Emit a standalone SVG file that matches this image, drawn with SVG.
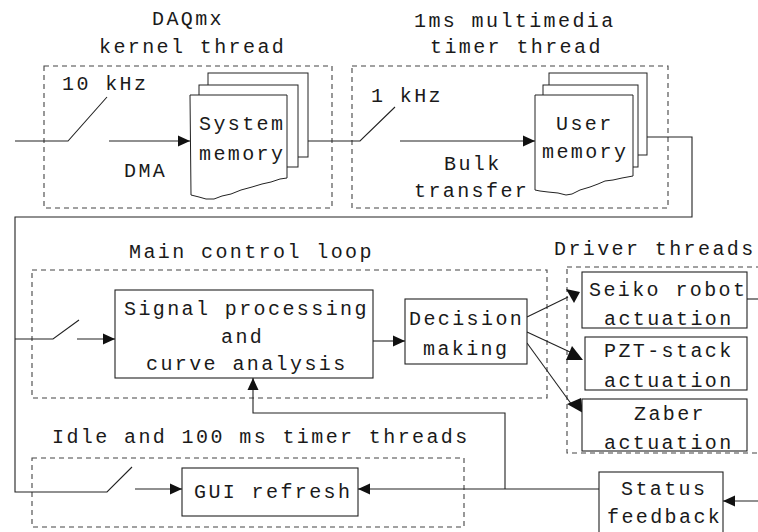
<svg xmlns="http://www.w3.org/2000/svg" width="758" height="532" viewBox="0 0 758 532">
  <style>
    text { font-family: "Liberation Mono", "DejaVu Sans Mono", monospace; font-size: 20px; letter-spacing: 2.4px; fill: #1a1a1a; }
    .box { fill: #fff; stroke: #222; stroke-width: 1.1; }
    .page { fill: #fff; stroke: #222; stroke-width: 1; }
    .thread { fill: none; stroke: #444; stroke-width: 1.1; stroke-dasharray: 5 4; }
    .wire { fill: none; stroke: #222; stroke-width: 1.1; }
    .head { fill: #111; stroke: none; }
  </style>
  <defs>
    <marker id="ah" viewBox="0 0 12 12" refX="12" refY="6" markerWidth="12" markerHeight="12" markerUnits="userSpaceOnUse" orient="auto">
      <path d="M0,0.5 L12,6 L0,11.5 z" fill="#111"/>
    </marker>
  </defs>
  <rect width="758" height="532" fill="#fff"/>

  <!-- thread containers -->
  <g id="daqmx-thread">
    <rect class="thread" x="44" y="66" width="288" height="142"/>
    <text x="152" y="25">DAQmx</text>
    <text x="99" y="53">kernel thread</text>
    <text x="62" y="90">10 kHz</text>
    <text x="124" y="177">DMA</text>
  </g>
  <g id="timer-thread">
    <rect class="thread" x="352" y="66" width="316" height="142"/>
    <text x="414" y="27">1ms multimedia</text>
    <text x="430" y="53">timer thread</text>
    <text x="371" y="102">1 kHz</text>
    <text x="444" y="170">Bulk</text>
    <text x="414" y="197">transfer</text>
  </g>
  <g id="main-loop">
    <rect class="thread" x="32" y="270" width="515" height="128"/>
    <text x="129" y="258">Main control loop</text>
  </g>
  <g id="driver-threads">
    <rect class="thread" x="567" y="267" width="200" height="186"/>
    <text x="554" y="255">Driver threads</text>
  </g>
  <g id="idle-threads">
    <rect class="thread" x="32" y="458" width="432" height="69"/>
    <text x="52" y="443">Idle and 100 ms timer threads</text>
  </g>

  <!-- connectors -->
  <g id="connectors">
    <polyline class="wire" points="15,141 68,141 107,97"/>
    <line class="wire" x1="109" y1="141" x2="190" y2="141" marker-end="url(#ah)"/>
    <polyline class="wire" points="308,141 360,141 395,107"/>
    <line class="wire" x1="400" y1="141" x2="535" y2="141" marker-end="url(#ah)"/>
    <polyline class="wire" points="647,137 692,137 692,217 15,217 15,492 107,492 132,467"/>
    <polyline class="wire" points="15,339 53,339 79,320"/>
    <line class="wire" x1="77" y1="339" x2="115" y2="339" marker-end="url(#ah)"/>
    <line class="wire" x1="373" y1="341" x2="405" y2="341" marker-end="url(#ah)"/>
    <line class="wire" x1="527" y1="317" x2="568" y2="297"/>
    <polygon class="head" points="566,289 580,292 574,303"/>
    <line class="wire" x1="527" y1="332" x2="570" y2="352"/>
    <polygon class="head" points="572,346 566,360 583,360"/>
    <line class="wire" x1="527" y1="343" x2="572" y2="405"/>
    <polygon class="head" points="567,404 581,398 583,413"/>
    <line class="wire" x1="747" y1="299" x2="758" y2="299"/>
    <line class="wire" x1="599" y1="489" x2="358" y2="489" marker-end="url(#ah)"/>
    <polyline class="wire" points="505,489 505,413 253,413 253,378" marker-end="url(#ah)"/>
    <line class="wire" x1="135" y1="489" x2="182" y2="489" marker-end="url(#ah)"/>
    <line class="wire" x1="758" y1="501" x2="723" y2="501" marker-end="url(#ah)"/>
  </g>

  <!-- memory buffers -->
  <g id="system-memory">
    <rect class="page" x="208" y="73" width="100" height="84"/>
    <rect class="page" x="199" y="85" width="99" height="82"/>
    <path class="page" d="M190,95 H287 V178 L280,179 L271,182 L262,184 L252,187 L241,190 L231,194 L222,196 L214,199 L206,199 L199,197 L191,195 Z"/>
    <text x="199" y="130">System</text>
    <text x="199" y="160">memory</text>
  </g>
  <g id="user-memory">
    <rect class="page" x="549" y="73" width="98" height="82"/>
    <rect class="page" x="543" y="85" width="95" height="82"/>
    <path class="page" d="M535,95 H633 V176 L622,178 L613,180 L605,181 L598,184 L590,187 L580,190 L572,194 L566,195 L558,193 L548,192 L540,191 L535,190 Z"/>
    <text x="556" y="130">User</text>
    <text x="542" y="158">memory</text>
  </g>

  <!-- processing blocks -->
  <g id="signal-processing">
    <rect class="box" x="115" y="290" width="258" height="88"/>
    <text x="124" y="315">Signal processing</text>
    <text x="221" y="343">and</text>
    <text x="146" y="370">curve analysis</text>
  </g>
  <g id="decision-making">
    <rect class="box" x="405" y="299" width="122" height="65"/>
    <text x="409" y="325">Decision</text>
    <text x="423" y="355">making</text>
  </g>
  <g id="seiko">
    <rect class="box" x="582" y="272" width="165" height="56"/>
    <text x="589" y="296">Seiko robot</text>
    <text x="604" y="325">actuation</text>
  </g>
  <g id="pzt">
    <rect class="box" x="585" y="337" width="162" height="53"/>
    <text x="604" y="357">PZT-stack</text>
    <text x="604" y="387">actuation</text>
  </g>
  <g id="zaber">
    <rect class="box" x="582" y="399" width="165" height="52"/>
    <text x="634" y="420">Zaber</text>
    <text x="604" y="449">actuation</text>
  </g>
  <g id="gui-refresh">
    <rect class="box" x="182" y="468" width="176" height="48"/>
    <text x="194" y="498">GUI refresh</text>
  </g>
  <g id="status-feedback">
    <rect class="box" x="599" y="472" width="124" height="62"/>
    <text x="621" y="495">Status</text>
    <text x="607" y="523">feedback</text>
  </g>
</svg>
